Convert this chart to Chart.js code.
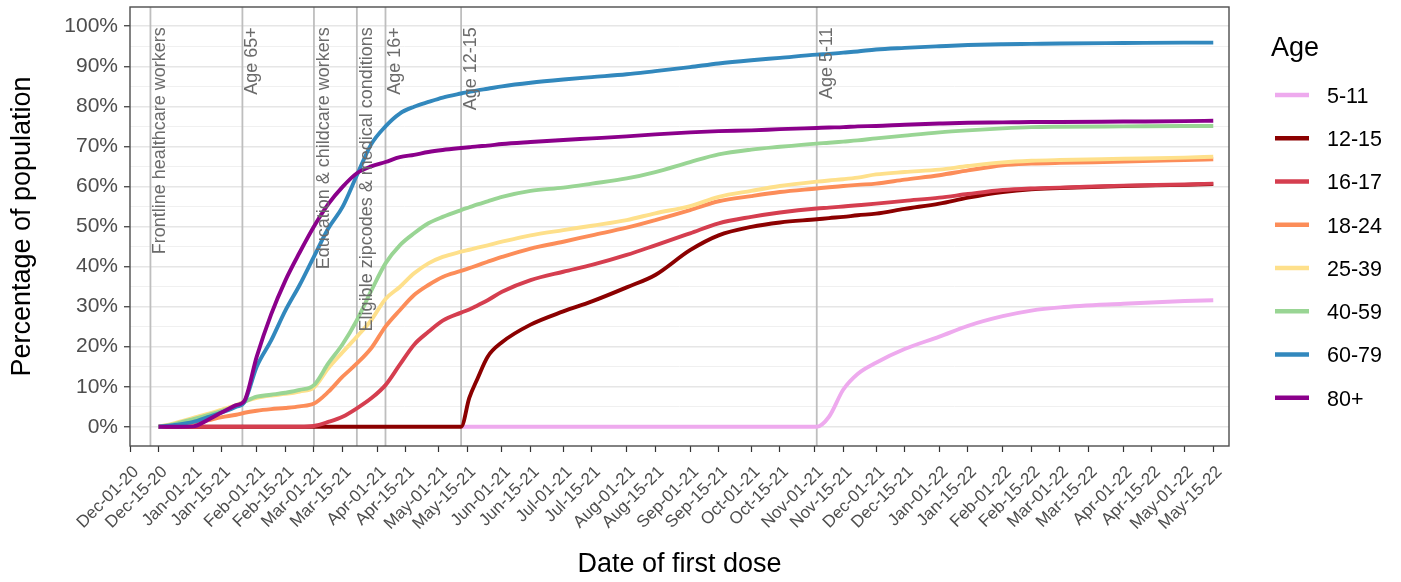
<!DOCTYPE html>
<html>
<head>
<meta charset="utf-8">
<script src="https://cdn.jsdelivr.net/npm/chart.js@4.4.1/dist/chart.umd.min.js"></script>
<style>
html, body { margin: 0; padding: 0; background: #fff; }
#chart { display: block; }
</style>
</head>
<body>
<canvas id="chart" width="1401" height="582"></canvas>
<script>
// dates the values were read at
var dates = [
  '2020-12-15', '2020-12-22', '2021-01-01', '2021-01-08', '2021-01-15', '2021-01-22', '2021-01-26',
  '2021-02-01', '2021-02-08', '2021-02-15', '2021-02-22', '2021-03-01', '2021-03-08', '2021-03-15',
  '2021-03-22', '2021-03-29', '2021-04-05', '2021-04-12', '2021-04-19', '2021-04-26', '2021-05-03',
  '2021-05-12', '2021-05-16', '2021-05-20', '2021-05-25', '2021-06-01', '2021-06-15', '2021-07-01',
  '2021-07-15', '2021-08-01', '2021-08-15', '2021-09-01', '2021-09-15', '2021-10-01', '2021-10-15',
  '2021-11-02', '2021-11-08', '2021-11-15', '2021-11-22', '2021-12-01', '2021-12-15', '2022-01-01',
  '2022-01-15', '2022-02-01', '2022-02-15', '2022-03-01', '2022-04-01', '2022-05-01', '2022-05-15'
];

// percentage of population with a first dose
var age5_11 = [null, null, null, null, null, null, null, null, null, null, null, null, null, null,
  null, null, null, null, null, null, null,
  0, 0, 0, 0, 0, 0, 0, 0, 0, 0, 0, 0, 0, 0,
  0, 2.5, 9.3, 13.2, 16.0, 19.4, 22.5, 25.2, 27.6, 29.0, 29.8, 30.7, 31.4, 31.6];
var age12_15 = [0, 0, 0, 0, 0, 0, 0, 0, 0, 0, 0, 0, 0, 0, 0, 0, 0, 0, 0, 0, 0,
  0, 7.2, 12.0, 17.5, 21.1, 25.5, 28.8, 31.3, 34.8, 37.9, 44.1, 47.8, 49.9, 51.0,
  51.8, 52.1, 52.4, 52.8, 53.2, 54.4, 55.7, 57.2, 58.6, 59.3, 59.6, 60.1, 60.4, 60.6];
var age16_17 = [0, 0, 0, 0, 0, 0, 0, 0, 0, 0, 0, 0.2, 1.2, 2.5, 4.6, 7.1, 10.4, 15.5, 20.5, 23.7, 26.5,
  28.5, 29.3, 30.3, 31.6, 33.7, 36.6, 38.7, 40.4, 42.9, 45.3, 48.3, 50.8, 52.4, 53.5,
  54.5, 54.7, 55.0, 55.3, 55.7, 56.4, 57.2, 58.1, 59.1, 59.5, 59.7, 60.2, 60.5, 60.7];
var age18_24 = [0, 0.3, 0.8, 1.6, 2.4, 3.0, 3.5, 4.0, 4.4, 4.7, 5.1, 5.8, 8.7, 12.5, 15.8, 19.6, 25.0,
  29.1, 32.9, 35.4, 37.4, 38.9, 39.6, 40.3, 41.2, 42.4, 44.5, 46.2, 47.8, 49.7, 51.6, 54.1, 56.3,
  57.6, 58.6, 59.5, 59.8, 60.1, 60.4, 60.7, 61.7, 62.8, 64.0, 65.3, 65.7, 65.9, 66.2, 66.6, 66.8];
var age25_39 = [0, 0.8, 2.2, 3.2, 4.3, 5.4, 6.3, 7.2, 7.8, 8.2, 8.8, 9.8, 14.6, 18.6, 22.5, 26.6, 31.9,
  34.9, 38.3, 40.8, 42.4, 43.7, 44.2, 44.7, 45.3, 46.2, 47.8, 49.1, 50.2, 51.6, 53.3, 55.1, 57.4,
  58.9, 60.1, 61.2, 61.5, 61.8, 62.2, 63.0, 63.6, 64.2, 65.1, 66.0, 66.4, 66.6, 66.9, 67.2, 67.4];
var age40_59 = [0, 0.6, 1.9, 2.9, 4.0, 5.2, 6.2, 7.5, 8.0, 8.5, 9.2, 10.4, 15.8, 20.6, 26.6, 33.9, 40.8,
  45.3, 48.3, 50.8, 52.4, 54.1, 54.8, 55.5, 56.3, 57.4, 58.9, 59.7, 60.7, 62.0, 63.6, 66.1, 68.0,
  69.2, 69.9, 70.7, 70.9, 71.2, 71.5, 72.0, 72.7, 73.5, 74.0, 74.5, 74.8, 74.9, 75.0, 75.1, 75.1];
var age60_79 = [0, 0.4, 1.2, 2.4, 3.6, 5.0, 6.2, 15.0, 21.5, 29.0, 35.4, 42.5, 49.5, 54.9, 62.8, 70.5, 75.0,
  78.2, 79.9, 81.1, 82.2, 83.2, 83.6, 84.0, 84.4, 85.0, 85.9, 86.7, 87.3, 88.0, 88.8, 89.8, 90.7,
  91.5, 92.1, 92.9, 93.1, 93.4, 93.7, 94.2, 94.6, 95.0, 95.3, 95.5, 95.6, 95.7, 95.8, 95.9, 95.9];
var age80 = [0, 0, 0.1, 1.7, 3.6, 5.4, 6.5, 17.5, 28.0, 36.5, 43.5, 50.0, 55.6, 59.9, 63.3, 65.0, 66.1,
  67.3, 67.9, 68.6, 69.1, 69.6, 69.8, 70.0, 70.2, 70.6, 71.1, 71.6, 72.0, 72.5, 73.0, 73.5, 73.8,
  74.0, 74.3, 74.6, 74.7, 74.8, 75.0, 75.1, 75.4, 75.7, 75.9, 76.0, 76.1, 76.1, 76.2, 76.3, 76.4];

var ageGroups = ['5-11', '12-15', '16-17', '18-24', '25-39', '40-59', '60-79', '80+'];
var ageSeries = [age5_11, age12_15, age16_17, age18_24, age25_39, age40_59, age60_79, age80];
var ageColors = ['#eeaaee', '#8b0000', '#d53e4f', '#fc8d59', '#fee08b', '#99d594', '#3288bd', '#8b008b'];

var xTickLabels = [
  'Dec-01-20', 'Dec-15-20', 'Jan-01-21', 'Jan-15-21', 'Feb-01-21', 'Feb-15-21', 'Mar-01-21', 'Mar-15-21',
  'Apr-01-21', 'Apr-15-21', 'May-01-21', 'May-15-21', 'Jun-01-21', 'Jun-15-21', 'Jul-01-21', 'Jul-15-21',
  'Aug-01-21', 'Aug-15-21', 'Sep-01-21', 'Sep-15-21', 'Oct-01-21', 'Oct-15-21', 'Nov-01-21', 'Nov-15-21',
  'Dec-01-21', 'Dec-15-21', 'Jan-01-22', 'Jan-15-22', 'Feb-01-22', 'Feb-15-22', 'Mar-01-22', 'Mar-15-22',
  'Apr-01-22', 'Apr-15-22', 'May-01-22', 'May-15-22'
];
var yTicks = [0, 10, 20, 30, 40, 50, 60, 70, 80, 90, 100];

// eligibility changes (vertical lines)
var milestoneDates = ['2020-12-11', '2021-01-25', '2021-03-01', '2021-03-22', '2021-04-05', '2021-05-12', '2021-11-02'];
var milestoneLabels = ['Frontline healthcare workers', 'Age 65+', 'Education & childcare workers',
  'Eligible zipcodes & medical conditions', 'Age 16+', 'Age 12-15', 'Age 5-11'];

var FONT = "'Liberation Sans', Arial, sans-serif";
var MONTHS = ['Jan', 'Feb', 'Mar', 'Apr', 'May', 'Jun', 'Jul', 'Aug', 'Sep', 'Oct', 'Nov', 'Dec'];
var origin = Date.UTC(2020, 11, 1);

function dayOf(iso) {
  var p = iso.split('-');
  return (Date.UTC(+p[0], +p[1] - 1, +p[2]) - origin) / 86400000;
}
function dayOfTick(lbl) {
  var p = lbl.split('-');
  return (Date.UTC(2000 + +p[2], MONTHS.indexOf(p[0]), +p[1]) - origin) / 86400000;
}
var tickDays = xTickLabels.map(dayOfTick);

var datasets = ageGroups.map(function (g, i) {
  return {
    label: g,
    data: dates.map(function (d, j) { return { x: dayOf(d), y: ageSeries[i][j] }; }),
    borderColor: ageColors[i],
    backgroundColor: ageColors[i],
    order: ageGroups.length - i
  };
});

var annotate = {
  id: 'annotate',
  beforeDatasetsDraw: function (chart) {
    var ctx = chart.ctx, a = chart.chartArea, x = chart.scales.x;
    ctx.save();
    ctx.strokeStyle = '#bebebe';
    ctx.lineWidth = 1.8;
    milestoneDates.forEach(function (d) {
      var px = x.getPixelForValue(dayOf(d));
      ctx.beginPath();
      ctx.moveTo(px, a.top);
      ctx.lineTo(px, a.bottom);
      ctx.stroke();
    });
    ctx.restore();
  },
  afterDatasetsDraw: function (chart) {
    var ctx = chart.ctx, x = chart.scales.x, y = chart.scales.y;
    ctx.save();
    ctx.fillStyle = '#6b6b6b';
    ctx.font = '18px ' + FONT;
    ctx.textAlign = 'right';
    ctx.textBaseline = 'top';
    milestoneDates.forEach(function (d, i) {
      ctx.save();
      ctx.translate(x.getPixelForValue(dayOf(d)) + 1, y.getPixelForValue(100) + 1);
      ctx.rotate(-Math.PI / 2);
      ctx.fillText(milestoneLabels[i], 0, 0);
      ctx.restore();
    });
    ctx.restore();
  },
  afterDraw: function (chart) {
    var ctx = chart.ctx, a = chart.chartArea;
    ctx.save();
    // panel border
    ctx.strokeStyle = '#4d4d4d';
    ctx.lineWidth = 1.4;
    ctx.strokeRect(a.left, a.top, a.right - a.left, a.bottom - a.top);
    // legend
    var lx = a.right + 42;
    ctx.fillStyle = '#000';
    ctx.font = '27px ' + FONT;
    ctx.textAlign = 'left';
    ctx.textBaseline = 'middle';
    ctx.fillText('Age', lx, 49);
    ctx.font = '21.5px ' + FONT;
    ageGroups.forEach(function (g, i) {
      var ly = 95 + i * 43.25;
      ctx.strokeStyle = ageColors[i];
      ctx.lineWidth = 4.5;
      ctx.beginPath();
      ctx.moveTo(lx + 4, ly);
      ctx.lineTo(lx + 38, ly);
      ctx.stroke();
      ctx.fillStyle = '#000';
      ctx.fillText(g, lx + 56, ly + 2);
    });
    ctx.restore();
  }
};

new Chart(document.getElementById('chart').getContext('2d'), {
  type: 'line',
  data: { datasets: datasets },
  plugins: [annotate],
  options: {
    responsive: false,
    animation: false,
    layout: { padding: { top: 7, right: 172, left: 0, bottom: 0 } },
    plugins: { legend: { display: false }, tooltip: { enabled: false } },
    elements: {
      point: { radius: 0 },
      line: { borderWidth: 3.9, cubicInterpolationMode: 'monotone', borderCapStyle: 'butt' }
    },
    scales: {
      x: {
        type: 'linear',
        min: 0,
        max: 537.7,
        afterBuildTicks: function (s) { s.ticks = tickDays.map(function (v) { return { value: v }; }); },
        afterFit: function (s) { s.height = 136; s.paddingLeft = 0; s.paddingRight = 0; },
        ticks: {
          autoSkip: false,
          maxRotation: 45,
          minRotation: 45,
          padding: 10,
          labelOffset: 6,
          color: '#4d4d4d',
          font: { family: FONT, size: 17 },
          callback: function (v) { return xTickLabels[tickDays.indexOf(v)]; }
        },
        grid: { drawOnChartArea: false, tickLength: 6, tickColor: '#333', tickWidth: 1.2 },
        border: { display: false },
        title: {
          display: true, text: 'Date of first dose', color: '#000',
          font: { family: FONT, size: 27 }, padding: { top: 0, bottom: 1 }
        }
      },
      y: {
        min: -4.8,
        max: 104.8,
        afterBuildTicks: function (s) {
          var t = [];
          yTicks.forEach(function (v, i) {
            t.push({ value: v });
            if (i < yTicks.length - 1) t.push({ value: (v + yTicks[i + 1]) / 2 });
          });
          s.ticks = t;
        },
        afterFit: function (s) { s.width = 130; s.paddingTop = 0; s.paddingBottom = 0; },
        ticks: {
          autoSkip: false,
          padding: 6,
          color: '#4d4d4d',
          font: { family: FONT, size: 21 },
          callback: function (v) { return yTicks.indexOf(v) >= 0 ? v + '%' : ''; }
        },
        grid: {
          color: function (c) { return c.tick && yTicks.indexOf(c.tick.value) >= 0 ? '#e6e6e6' : '#f0f0f0'; },
          lineWidth: function (c) { return c.tick && yTicks.indexOf(c.tick.value) >= 0 ? 1.5 : 1; },
          tickLength: 6,
          tickWidth: 1.2,
          tickColor: function (c) { return c.tick && yTicks.indexOf(c.tick.value) >= 0 ? '#333' : 'rgba(0,0,0,0)'; }
        },
        border: { display: false },
        title: {
          display: true, text: 'Percentage of population', color: '#000',
          font: { family: FONT, size: 27 }, padding: { top: 6, bottom: 0 }
        }
      }
    }
  }
});
</script>
</body>
</html>
